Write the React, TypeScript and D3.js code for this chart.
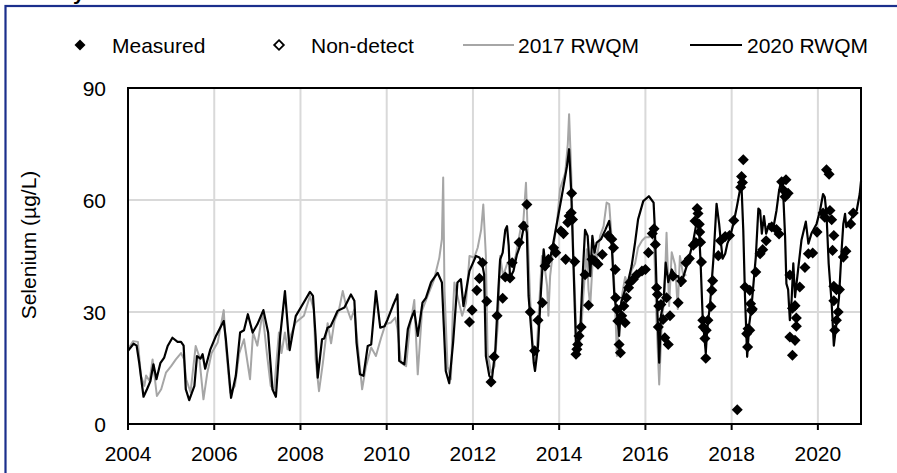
import React from 'react';
import * as d3 from 'd3';

// 2017 RWQM model (decimal year, µg/L)
const model2017: [number, number][] = [
  [2004.0, 20], [2004.12, 22.2], [2004.23, 22], [2004.3, 12.9], [2004.38, 10.2], [2004.42, 13], [2004.5, 11.5],
  [2004.57, 17.3], [2004.67, 7.5], [2004.77, 9.3], [2004.88, 13.75], [2005.0, 15.5], [2005.11, 17.3], [2005.23, 19],
  [2005.3, 17.3], [2005.35, 12], [2005.45, 8.5], [2005.57, 20.9], [2005.65, 18.2], [2005.75, 6.6], [2005.84, 13.75],
  [2005.94, 19], [2006.08, 21.8], [2006.22, 30.5], [2006.27, 20.9], [2006.37, 8.4], [2006.48, 10.2], [2006.58, 19],
  [2006.69, 22.7], [2006.83, 12], [2006.9, 24.5], [2007.0, 21], [2007.12, 29.8], [2007.22, 19], [2007.31, 10.2],
  [2007.39, 9.3], [2007.5, 24.5], [2007.56, 19], [2007.64, 24.5], [2007.7, 20], [2007.77, 23.6], [2007.89, 27.2],
  [2008.08, 29], [2008.22, 34.3], [2008.31, 30.7], [2008.35, 17.3], [2008.43, 8.8], [2008.52, 16.4], [2008.63, 27],
  [2008.71, 21.6], [2008.79, 27.7], [2008.89, 30.4], [2008.98, 35.6], [2009.06, 31.6], [2009.17, 28], [2009.25, 30.7],
  [2009.33, 20.9], [2009.43, 9.3], [2009.52, 15.5], [2009.64, 20.5], [2009.75, 18.2], [2009.87, 23.1], [2009.97, 26.7],
  [2010.1, 27.2], [2010.2, 28.5], [2010.25, 25.4], [2010.33, 16.4], [2010.45, 15.5], [2010.53, 25.4], [2010.64, 33.2],
  [2010.72, 13.3], [2010.82, 30.4], [2010.95, 34.3], [2011.1, 38.75], [2011.22, 44.5], [2011.28, 49.5], [2011.31, 66],
  [2011.34, 36], [2011.41, 15.5], [2011.49, 12], [2011.53, 29], [2011.57, 37.9], [2011.64, 34.3], [2011.75, 29],
  [2011.84, 32.5], [2011.92, 45], [2012.03, 44.6], [2012.11, 47.2], [2012.19, 52], [2012.24, 58.8], [2012.3, 45],
  [2012.34, 19], [2012.42, 13.75], [2012.5, 15.5], [2012.58, 27], [2012.63, 45], [2012.7, 39.6], [2012.8, 43.2],
  [2012.91, 42.3], [2012.99, 45], [2013.1, 52], [2013.17, 54.4], [2013.23, 64.6], [2013.27, 51.25], [2013.32, 35.2],
  [2013.38, 21.8], [2013.43, 16.4], [2013.48, 20], [2013.54, 32.5], [2013.6, 45], [2013.66, 42.3], [2013.72, 37],
  [2013.75, 29], [2013.79, 39.6], [2013.87, 47.7], [2013.95, 54], [2014.02, 62.9], [2014.14, 67.3], [2014.2, 75],
  [2014.23, 83], [2014.28, 67.3], [2014.33, 45], [2014.39, 27.1], [2014.45, 18.2], [2014.51, 24.6], [2014.56, 34.3],
  [2014.64, 46.8], [2014.68, 36], [2014.72, 31.6], [2014.77, 42.3], [2014.82, 47.7], [2014.87, 44.1], [2014.95, 50.4],
  [2015.03, 53], [2015.1, 59.3], [2015.16, 58.9], [2015.22, 49.5], [2015.28, 37], [2015.34, 18.2], [2015.39, 27.8],
  [2015.45, 34], [2015.53, 39.4], [2015.61, 36.7], [2015.68, 41.2], [2015.76, 43], [2015.83, 47.3], [2015.92, 49.1],
  [2016.0, 50], [2016.08, 50], [2016.14, 51.8], [2016.2, 48.7], [2016.26, 26.9], [2016.32, 10.6], [2016.38, 27],
  [2016.44, 34.1], [2016.49, 51.25], [2016.55, 31.6], [2016.61, 46], [2016.69, 42.5], [2016.75, 30.8], [2016.8, 45],
  [2016.88, 39.6], [2016.95, 40],
];

// 2020 RWQM model
const model2020: [number, number][] = [
  [2004.0, 19.6], [2004.13, 21.5], [2004.2, 21], [2004.26, 16.4], [2004.36, 7.3], [2004.44, 9.3], [2004.52, 11.5],
  [2004.59, 16], [2004.66, 12], [2004.75, 16.3], [2004.84, 17.8], [2004.92, 20.9], [2005.03, 23.1], [2005.15, 22],
  [2005.23, 22], [2005.29, 21], [2005.34, 9.3], [2005.42, 6.4], [2005.54, 10.2], [2005.6, 18.2], [2005.68, 17.5],
  [2005.73, 18.7], [2005.79, 14.8], [2005.91, 20], [2006.04, 23.6], [2006.22, 27.6], [2006.27, 22.7], [2006.39, 7],
  [2006.5, 12.9], [2006.6, 24.5], [2006.69, 25.1], [2006.78, 29.4], [2006.89, 24.5], [2007.0, 26.7], [2007.14, 30.5],
  [2007.25, 24.5], [2007.35, 9.3], [2007.43, 7.3], [2007.53, 23.6], [2007.64, 35.6], [2007.75, 19.8], [2007.89, 28.9],
  [2008.12, 33.4], [2008.22, 35.4], [2008.29, 34.3], [2008.35, 23.6], [2008.4, 12.4], [2008.5, 22.7], [2008.55, 22.9],
  [2008.63, 25.8], [2008.7, 26.2], [2008.79, 28.5], [2008.86, 30.3], [2009.02, 31.2], [2009.17, 34.7], [2009.25, 33],
  [2009.3, 21.8], [2009.38, 13.3], [2009.46, 12.9], [2009.56, 20.9], [2009.64, 21.3], [2009.75, 35.6], [2009.85, 25.8],
  [2009.95, 26.2], [2010.02, 28], [2010.14, 31.6], [2010.22, 33.8], [2010.25, 34.7], [2010.29, 16.9], [2010.41, 16],
  [2010.49, 25.4], [2010.56, 28], [2010.64, 30.3], [2010.72, 23.6], [2010.83, 32.5], [2010.91, 33.8], [2011.03, 38],
  [2011.18, 40.5], [2011.28, 37.9], [2011.37, 14.2], [2011.45, 10.9], [2011.54, 21.8], [2011.64, 37.9], [2011.72, 38.8],
  [2011.78, 31.6], [2011.92, 41], [2012.07, 45], [2012.15, 44.6], [2012.21, 43.2], [2012.26, 40], [2012.3, 18.2],
  [2012.38, 12.9], [2012.44, 12], [2012.52, 20], [2012.59, 36], [2012.63, 44], [2012.69, 45.9], [2012.75, 52],
  [2012.79, 53], [2012.83, 47.7], [2012.86, 39.2], [2012.94, 41], [2013.02, 45.4], [2013.1, 48], [2013.2, 54],
  [2013.25, 51.25], [2013.29, 34.3], [2013.35, 25.4], [2013.41, 16.4], [2013.44, 14.2], [2013.51, 21], [2013.58, 36],
  [2013.64, 46.8], [2013.69, 41.4], [2013.77, 43.2], [2013.85, 47.7], [2013.95, 54], [2014.06, 61], [2014.18, 69],
  [2014.23, 73.6], [2014.28, 62], [2014.33, 43.2], [2014.39, 21], [2014.43, 20], [2014.49, 25.4], [2014.54, 38.75],
  [2014.6, 52], [2014.66, 50.4], [2014.72, 39.6], [2014.77, 50.4], [2014.82, 45.9], [2014.87, 48.6], [2014.97, 49.5],
  [2015.07, 52], [2015.16, 54.4], [2015.22, 47.7], [2015.28, 34.3], [2015.34, 29.8], [2015.39, 23.6], [2015.44, 32.5],
  [2015.53, 36], [2015.61, 38.75], [2015.68, 42.3], [2015.76, 48.6], [2015.83, 54.8], [2015.95, 59.7], [2016.08, 61],
  [2016.19, 59.3], [2016.22, 52], [2016.26, 36], [2016.32, 16.4], [2016.36, 29], [2016.42, 32.5], [2016.47, 43.2],
  [2016.53, 38], [2016.61, 41.4], [2016.69, 39.6], [2016.76, 39.6], [2016.82, 37], [2016.88, 39.4], [2017.0, 43.9],
  [2017.11, 49], [2017.2, 54.8], [2017.25, 50.4], [2017.28, 43.2], [2017.33, 28], [2017.38, 21.7], [2017.4, 19],
  [2017.43, 25], [2017.5, 32.2], [2017.58, 44.7], [2017.65, 59], [2017.71, 53.6], [2017.74, 50], [2017.79, 44.3],
  [2017.85, 45.6], [2017.9, 48.3], [2017.96, 50], [2018.04, 53.6], [2018.12, 58.1], [2018.19, 62.5], [2018.23, 63.4],
  [2018.27, 51.8], [2018.31, 34], [2018.36, 18], [2018.41, 26.9], [2018.46, 31.3], [2018.52, 39.4], [2018.56, 44.7],
  [2018.62, 57.7], [2018.66, 57.2], [2018.7, 51], [2018.75, 55.7], [2018.8, 51], [2018.87, 53.6], [2018.97, 52.7],
  [2019.04, 57.2], [2019.1, 62.5], [2019.16, 65.7], [2019.2, 60.7], [2019.24, 50], [2019.27, 37.6], [2019.31, 36],
  [2019.35, 27.8], [2019.39, 33.1], [2019.43, 43], [2019.47, 34], [2019.54, 41.2], [2019.62, 49.3], [2019.72, 54.2],
  [2019.78, 48.3], [2019.85, 51], [2019.97, 53.6], [2020.05, 57.2], [2020.12, 61.6], [2020.16, 60.8], [2020.2, 56.3],
  [2020.25, 43], [2020.32, 32.2], [2020.37, 21], [2020.43, 26.9], [2020.49, 34], [2020.55, 46.5], [2020.59, 53.6],
  [2020.63, 56.3], [2020.66, 52.7], [2020.74, 54.2], [2020.82, 56], [2020.9, 57.2], [2020.97, 61.6], [2021.0, 65],
];

// measured samples
const measured: [number, number][] = [
  [2011.92, 27.3], [2011.98, 30.5], [2012.09, 35.8], [2012.15, 39], [2012.22, 43.2], [2012.32, 32.9], [2012.42, 11.25],
  [2012.49, 18], [2012.56, 29], [2012.69, 33.7], [2012.75, 39.4], [2012.86, 39.1], [2012.91, 43.2], [2013.07, 48.6],
  [2013.17, 53], [2013.25, 58.8], [2013.33, 30], [2013.43, 19.6], [2013.51, 27.8], [2013.61, 32.5], [2013.67, 42.3],
  [2013.75, 44.1], [2013.87, 47.2], [2013.92, 45.9], [2014.04, 51.7], [2014.1, 51], [2014.15, 44.1], [2014.2, 54],
  [2014.23, 55.7], [2014.28, 56.6], [2014.29, 61.8], [2014.31, 54.8], [2014.36, 43.5], [2014.39, 18.7], [2014.41, 20],
  [2014.43, 21.3], [2014.46, 23.6], [2014.51, 26], [2014.6, 40], [2014.68, 31.8], [2014.76, 44.1], [2014.82, 43.7],
  [2014.9, 42.8], [2015.0, 45.4], [2015.14, 50.4], [2015.22, 49.5], [2015.26, 47.2], [2015.3, 41.4], [2015.31, 33.8],
  [2015.34, 30.7], [2015.36, 27.6], [2015.39, 21.3], [2015.42, 19.1], [2015.45, 29], [2015.5, 31.6], [2015.53, 27.1],
  [2015.56, 33.8], [2015.61, 36.5], [2015.64, 37.9], [2015.72, 38.75], [2015.8, 40], [2015.92, 41], [2016.0, 41.4],
  [2016.07, 45.9], [2016.16, 51], [2016.2, 52.3], [2016.23, 48.1], [2016.26, 36.5], [2016.28, 34.7], [2016.31, 31.6],
  [2016.3, 26], [2016.36, 32], [2016.41, 28], [2016.45, 23.1], [2016.53, 21.3], [2016.49, 33.8], [2016.57, 29],
  [2016.64, 39.6], [2016.76, 32.5], [2016.84, 38.3], [2016.94, 43.2], [2017.02, 44.3], [2017.11, 47.9], [2017.17, 48.6],
  [2017.15, 54.4], [2017.2, 57.7], [2017.22, 56.4], [2017.25, 53.5], [2017.26, 51.4], [2017.28, 48.7], [2017.3, 43.4],
  [2017.33, 27.8], [2017.34, 26], [2017.38, 22.9], [2017.41, 25.1], [2017.45, 27.8], [2017.4, 17.6], [2017.52, 31.5],
  [2017.54, 35.8], [2017.56, 38.4], [2017.69, 45.1], [2017.74, 49.1], [2017.85, 50.2], [2017.95, 50.5], [2018.05, 54.5],
  [2018.13, 3.8], [2018.21, 63.4], [2018.23, 66.3], [2018.27, 70.8], [2018.25, 64.7], [2018.31, 36.7], [2018.35, 24.2],
  [2018.37, 20.6], [2018.38, 25.5], [2018.42, 35.8], [2018.44, 32.2], [2018.46, 30.4], [2018.42, 25.1], [2018.48, 30.8],
  [2018.56, 40.7], [2018.66, 45.6], [2018.72, 46.7], [2018.8, 49.1], [2018.93, 52.8], [2019.04, 52.1], [2019.1, 50.9],
  [2019.16, 64.9], [2019.2, 62.7], [2019.26, 65.4], [2019.24, 60.9], [2019.31, 61.8], [2019.35, 39.9], [2019.41, 31],
  [2019.47, 31.7], [2019.5, 28.4], [2019.35, 23.3], [2019.47, 22.4], [2019.41, 18.4], [2019.5, 26.2], [2019.58, 36.7],
  [2019.7, 41.9], [2019.78, 45.6], [2019.88, 45.8], [2019.98, 51.4], [2020.12, 56.5], [2020.2, 68.1], [2020.26, 66.9],
  [2020.16, 55.4], [2020.28, 57.2], [2020.32, 54.7], [2020.37, 50.5], [2020.34, 46.5], [2020.37, 36.9], [2020.43, 36],
  [2020.37, 33], [2020.47, 30], [2020.43, 27.8], [2020.39, 25.1], [2020.5, 36], [2020.59, 44.7], [2020.65, 46.3],
  [2020.76, 53.6], [2020.82, 56.5],
];

const xTicks = [2004, 2006, 2008, 2010, 2012, 2014, 2016, 2018, 2020];
const yTicks = [0, 30, 60, 90];

const FONT = '"Liberation Sans", Arial, sans-serif';
const W = 897;
const H = 473;

const App: React.FC = () => {
  const x = d3.scaleLinear().domain([2004, 2021]).range([128, 861]);
  const y = d3.scaleLinear().domain([0, 90]).range([424, 88]);

  const line = d3.line<[number, number]>()
    .x(d => x(d[0]))
    .y(d => y(d[1]));

  const diamond = d3.symbol().type(d3.symbolDiamond2).size(78)();
  const diamondSmall = d3.symbol().type(d3.symbolDiamond2).size(60)();

  const [x0, x1] = x.range();
  const [yb, yt] = y.range();

  return (
    <svg width={W} height={H} style={{ position: 'absolute', left: 0, top: 0, background: '#fff' }}>
      <rect x={0} y={0} width={W} height={H} fill="#fff" />
      {/* cut-off title fragment */}
      <text x={73} y={0} fontFamily={FONT} fontSize={21} fontWeight="bold" fill="#000">y</text>
      <rect x={5.5} y={6} width={2000} height={2000} fill="none" stroke="#1b2f8c" strokeWidth={2.2} />

      {/* gridlines */}
      {xTicks.filter(t => t > 2004).map(t => (
        <line key={'gx' + t} x1={x(t)} x2={x(t)} y1={yt} y2={yb} stroke="#d9d9d9" strokeWidth={2} />
      ))}
      {yTicks.filter(t => t > 0 && t < 90).map(t => (
        <line key={'gy' + t} x1={x0} x2={x1} y1={y(t)} y2={y(t)} stroke="#d9d9d9" strokeWidth={2} />
      ))}

      {/* series */}
      <path d={line(model2017) || ''} fill="none" stroke="#a6a6a6" strokeWidth={2} strokeLinejoin="round" />
      <path d={line(model2020) || ''} fill="none" stroke="#000" strokeWidth={2.2} strokeLinejoin="round" />
      {measured.map((d, i) => (
        <path key={'m' + i} d={diamond || ''} transform={`translate(${x(d[0])},${y(d[1])})`} fill="#000" />
      ))}

      {/* plot frame */}
      <rect x={x0} y={yt} width={x1 - x0} height={yb - yt} fill="none" stroke="#000" strokeWidth={2} />

      {/* x axis ticks + labels */}
      {xTicks.map(t => (
        <g key={'tx' + t}>
          <line x1={x(t)} x2={x(t)} y1={yb} y2={yb + 6} stroke="#000" strokeWidth={2} />
          <text x={x(t)} y={461} textAnchor="middle" fontFamily={FONT} fontSize={21} fill="#000">{t}</text>
        </g>
      ))}
      {yTicks.map(t => (
        <text key={'ty' + t} x={106} y={y(t)} dy="0.36em" textAnchor="end" fontFamily={FONT} fontSize={21} fill="#000">{t}</text>
      ))}
      <text transform="translate(36,245) rotate(-90)" textAnchor="middle" fontFamily={FONT} fontSize={21} fill="#000">
        Selenium (µg/L)
      </text>

      {/* legend */}
      <g fontFamily={FONT} fontSize={21} fill="#000">
        <path d={diamond || ''} transform="translate(80,45)" fill="#000" />
        <text x={112} y={52.5}>Measured</text>
        <path d={diamondSmall || ''} transform="translate(279,45)" fill="#fff" stroke="#000" strokeWidth={1.8} />
        <text x={311} y={52.5}>Non-detect</text>
        <line x1={463} x2={514} y1={45} y2={45} stroke="#a6a6a6" strokeWidth={2} />
        <text x={518} y={52.5}>2017 RWQM</text>
        <line x1={690} x2={742} y1={45} y2={45} stroke="#000" strokeWidth={2} />
        <text x={747} y={52.5}>2020 RWQM</text>
      </g>
    </svg>
  );
};

export default App;
